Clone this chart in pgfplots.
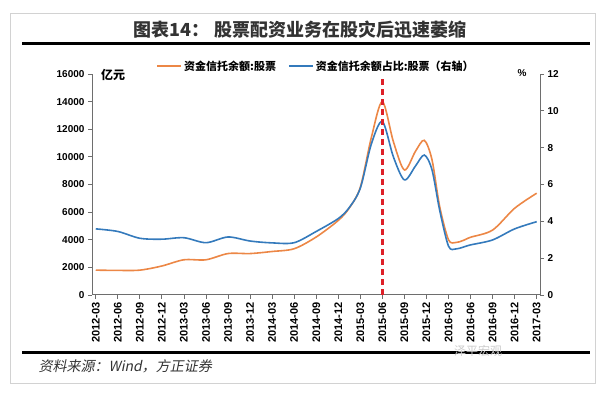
\documentclass[border=0pt]{standalone}
\usepackage{pgfplots}
\pgfplotsset{compat=1.18}
\usepackage{fontspec}
\setmainfont{Liberation Sans}
\newfontfamily\cjk{Noto Sans CJK SC}
\newfontfamily\cjkit[FakeSlant=0.2]{Noto Sans CJK SC}
\definecolor{orng}{RGB}{236,135,70}
\definecolor{blu}{RGB}{52,122,188}
\definecolor{rd}{RGB}{222,32,40}
\definecolor{axgray}{RGB}{110,110,110}
\pgfplotstableread{
x y
0 1800
1 1780
2 1800
3 2100
4 2550
5 2550
6 3000
7 3000
8 3150
9 3350
10 4200
11 5400
11.5 6300
12 7800
12.5 11400
13 14000
13.5 11100
14 9050
14.5 10400
14.9 11200
15.25 9800
15.6 6400
16 4000
16.33 3800
16.67 3950
17 4180
18 4700
19 6280
20 7370
}\amount
\pgfplotstableread{
x y
0 3.59
1 3.45
2 3.08
3 3.03
4 3.11
5 2.84
6 3.15
7 2.93
8 2.83
9 2.84
10 3.45
11 4.15
11.5 4.75
12 5.8
12.5 8.2
13 9.42
13.5 7.5
14 6.25
14.5 7.0
14.9 7.6
15.25 6.8
15.6 4.6
16 2.65
16.33 2.5
16.67 2.6
17 2.72
18 2.99
19 3.59
20 3.98
}\ratio
\begin{document}
\begin{tikzpicture}
\path[use as bounding box] (0,0) rectangle (605pt,393pt);
\draw[gray!35, line width=1pt] (10pt,9pt) rectangle (595pt,379pt);
\node[font=\cjk\bfseries\fontsize{18}{20}\selectfont, black!80] at (300pt,363pt) {图表14：\ 股票配资业务在股灾后迅速萎缩};
\draw[line width=3pt] (22pt,349pt) -- (590pt,349pt);
\draw[line width=3pt] (22pt,40pt) -- (590pt,40pt);
\node[anchor=west, font=\cjkit\fontsize{14}{16}\selectfont, black!80] at (35pt,27pt) {资料来源：Wind，方正证券};
\node[font=\cjk\fontsize{12}{14}\selectfont, gray!40] at (478pt,42pt) {泽平宏观};
\node[font=\cjk\bfseries\fontsize{12}{14}\selectfont] at (113pt,318pt) {亿元};
\node[font=\bfseries\fontsize{10}{12}\selectfont] at (522pt,320pt) {\%};
\begin{axis}[at={(92pt,98pt)}, anchor=south west, scale only axis,
  width=448pt, height=221pt,
  xmin=-0.17, xmax=20.15, ymin=0, ymax=16000,
  axis x line*=bottom, axis y line*=left,
  xtick={0,...,20},
  xticklabels={2012-03,2012-06,2012-09,2012-12,2013-03,2013-06,2013-09,2013-12,2014-03,2014-06,2014-09,2014-12,2015-03,2015-06,2015-09,2015-12,2016-03,2016-06,2016-09,2016-12,2017-03},
  x tick label style={rotate=90, anchor=east, font=\bfseries\fontsize{11}{12}\selectfont},
  ytick={0,2000,...,16000},
  y tick label style={font=\bfseries\fontsize{10}{12}\selectfont},
  scaled y ticks=false,
  /pgf/number format/assume math mode=true,
  /pgf/number format/set thousands separator={},
  tick align=outside, major tick length=4pt,
  axis line style={axgray, line width=1pt},
  tick style={axgray, line width=0.8pt},
  legend style={at={(0.5,1.035)}, anchor=center, draw=none, fill=none,
    font=\cjk\bfseries\fontsize{11}{13}\selectfont, legend columns=2,
    /tikz/every even column/.append style={column sep=10pt}},
  legend image code/.code={\draw[#1, line width=1.8pt] (0pt,0pt) -- (24pt,0pt);},
]
\addplot[orng, line width=1.6pt, smooth] table[x=x,y=y] {\amount};
\addlegendentry{资金信托余额:股票}
\addlegendimage{blu, line width=1.6pt}
\addlegendentry{资金信托余额占比:股票（右轴）}
\end{axis}
\begin{axis}[at={(92pt,98pt)}, anchor=south west, scale only axis,
  width=448pt, height=221pt,
  xmin=-0.17, xmax=20.15, ymin=0, ymax=12,
  axis x line=none, axis y line*=right,
  ytick={0,2,...,12},
  y tick label style={font=\bfseries\fontsize{10}{12}\selectfont},
  /pgf/number format/assume math mode=true,
  tick align=outside, major tick length=4pt,
  axis line style={axgray, line width=1pt},
  tick style={axgray, line width=0.8pt},
]
\addplot[blu, line width=1.6pt, smooth] table[x=x,y=y] {\ratio};
\addplot[rd, line width=2.6pt, dash pattern=on 6pt off 4pt] coordinates {(13,0) (13,11.8)};
\end{axis}
\end{tikzpicture}
\end{document}
